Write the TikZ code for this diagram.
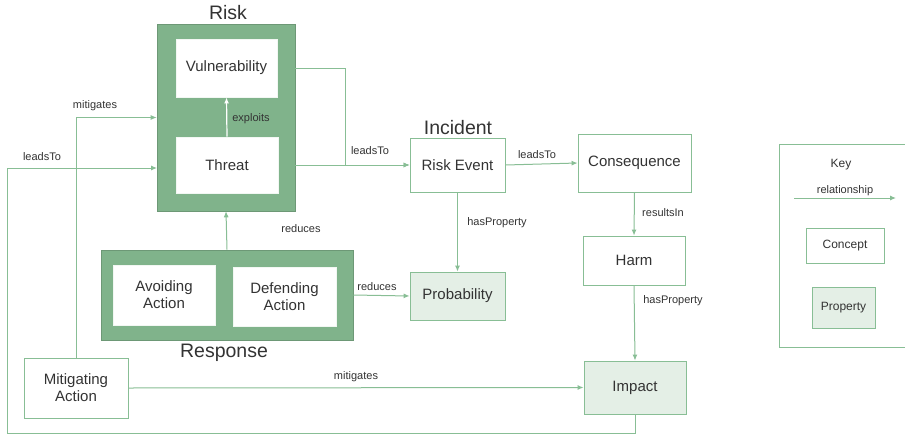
\documentclass[tikz,border=0pt]{standalone}
\usepackage{fontspec}
\setmainfont{Liberation Sans}
\usetikzlibrary{arrows.meta}
\definecolor{lg}{HTML}{88BE95}
\definecolor{dg}{HTML}{80B38B}
\definecolor{pf}{HTML}{E4EFE6}
\definecolor{tx}{HTML}{333333}
\begin{document}
\begin{tikzpicture}[x=1pt,y=-1pt,
  box/.style={draw=lg, line width=0.9pt, fill=white, text=tx, font=\fontsize{15}{17}\selectfont, inner sep=0pt, align=center},
  prop/.style={box, fill=pf},
  grp/.style={draw=dg!85!black, line width=0.6pt, fill=dg, inner sep=0pt},
  inbox/.style={box, draw=white!90!dg},
  lbl/.style={font=\fontsize{11}{13}\selectfont, text=tx, inner sep=0pt},
  keytxt/.style={font=\fontsize{12}{14}\selectfont, text=tx, inner sep=0pt},
  ttl/.style={font=\fontsize{19.5}{22}\selectfont, text=tx, inner sep=0pt},
  rel/.style={draw=lg, line width=1pt, -{Latex[length=6pt,width=5pt]}}
]
\useasboundingbox (0,0) rectangle (905,434);
\fill[white] (0,0) rectangle (905,434);

% Risk group
\node[grp, minimum width=138pt, minimum height=187pt] (risk) at (226,117.5) {};
\node[ttl] (risktitle) at (228,13) {Risk};
\node[inbox, minimum width=101pt, minimum height=58pt] (vul) at (226.5,68) {Vulnerability};
\node[inbox, minimum width=102pt, minimum height=56pt] (thr) at (227,165) {Threat};

% Incident
\node[ttl] (inctitle) at (458,128) {Incident};
\node[box, minimum width=95pt, minimum height=54pt] (re) at (457.5,165) {Risk Event};
\node[box, minimum width=113pt, minimum height=58pt] (cons) at (634.5,163) {Consequence};
\node[prop, minimum width=95pt, minimum height=48pt] (prob) at (457.5,296) {Probability};
\node[box, minimum width=102pt, minimum height=49pt] (harm) at (634,260.5) {Harm};
\node[prop, minimum width=102pt, minimum height=53pt] (imp) at (635,387.5) {Impact};

% Response group
\node[grp, minimum width=252pt, minimum height=90pt] (resp) at (227,295) {};
\node[ttl] (resptitle) at (224,353) {Response};
\node[inbox, minimum width=102pt, minimum height=60pt] (avoid) at (164,295) {Avoiding\\Action};
\node[inbox, minimum width=103pt, minimum height=59pt] (defend) at (284.5,296.5) {Defending\\Action};

\node[box, minimum width=104pt, minimum height=60pt] (mit) at (76,388) {Mitigating\\Action};

% Key
\draw[draw=lg, line width=0.9pt] (915,144) -- (779,144) -- (779,347) -- (915,347);
\node[keytxt] (keyt) at (841,165) {Key};
\coordinate (ka) at (794,198);
\coordinate (kb) at (896,198);
\draw[rel] (ka) -- (kb);
\node[keytxt, font=\fontsize{11}{13}\selectfont] (krel) at (845,191) {relationship};
\node[box, font=\fontsize{12}{14}\selectfont, minimum width=78pt, minimum height=35pt] (kcon) at (845,245.5) {Concept};
\node[prop, font=\fontsize{12}{14}\selectfont, minimum width=63pt, minimum height=41pt] (kprop) at (843.5,307.5) {Property};

% Connectors
\draw[draw=white, line width=1.2pt, -{Latex[length=6pt,width=5pt]}] (thr.north) -- (vul.south);
\node[lbl] (lexp) at (251,119) {exploits};

\draw[rel] (vul.east -| risk.east) -- (345,68) |- (re.west);
\draw[rel] (thr.east -| risk.east) -- (re.west);
\node[lbl] (llt1) at (370,151) {leadsTo};

\draw[rel] (re.east) -- (cons.west);
\node[lbl] (llt2) at (537,155) {leadsTo};

\draw[rel] (re.south) -- (prob.north);
\node[lbl] (lhp1) at (497,223) {hasProperty};

\draw[rel] (cons.south) -- (harm.north);
\node[lbl] (lri) at (663,213) {resultsIn};

\draw[rel] (harm.south) -- (imp.north);
\node[lbl] (lhp2) at (673,301) {hasProperty};

\draw[rel] (resp.north) -- (risk.south);
\node[lbl] (lred1) at (301,229) {reduces};

\draw[rel] (resp.east) -- (prob.west);
\node[lbl] (lred2) at (377,287) {reduces};

\draw[rel] (mit.north) |- (risk.west);
\node[lbl] (lmit1) at (95,106) {mitigates};

\draw[rel] (mit.east) -- (imp.west);
\node[lbl] (lmit2) at (356,377) {mitigates};

\coordinate (c1) at (7,433);
\coordinate (lt) at (157,168);
\draw[rel] (imp.south) |- (c1) |- (lt);
\node[lbl] (llt3) at (42,157) {leadsTo};
\end{tikzpicture}
\end{document}
